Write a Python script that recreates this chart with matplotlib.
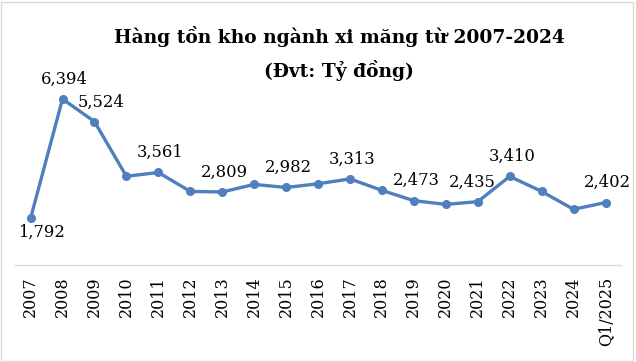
import matplotlib
matplotlib.use("Agg")
import matplotlib.pyplot as plt
from matplotlib.patches import Rectangle

categories = ["2007", "2008", "2009", "2010", "2011", "2012", "2013", "2014", "2015",
              "2016", "2017", "2018", "2019", "2020", "2021", "2022", "2023", "2024",
              "Q1/2025"]
values = [1792, 6394, 5524, 3412, 3561, 2830, 2809, 3100, 2982,
          3125, 3313, 2870, 2473, 2330, 2435, 3410, 2830, 2140, 2402]
labeled = ["2007", "2008", "2009", "2011", "2013", "2015", "2017", "2019",
           "2021", "2022", "Q1/2025"]

title = "Hàng tồn kho ngành xi măng từ 2007-2024\n(Đvt: Tỷ đồng)"

W, H = 636, 362
fig = plt.figure(figsize=(W / 100, H / 100), dpi=100)
fig.patch.set_facecolor("white")
ax = fig.add_axes([14.6 / W, 1 - 264.8 / H, (621.5 - 14.6) / W, (264.8 - 83.3) / H])

line_color = "#4F7FBC"
x = list(range(len(categories)))
ax.plot(x, values, color=line_color, lw=2.4, marker="o", ms=5.5,
        solid_joinstyle="round", solid_capstyle="round", clip_on=False)

ax.set_xlim(-0.5, len(categories) - 0.5)
ax.set_ylim(0, 7000)
ax.set_yticks([])
for s in ["top", "left", "right"]:
    ax.spines[s].set_visible(False)
ax.spines["bottom"].set_color("#D9D9D9")
ax.spines["bottom"].set_linewidth(1.0)
ax.set_xticks(x)
ax.set_xticklabels(categories, rotation=90, family="DejaVu Serif", fontsize=11.5,
                   va="top", ha="center")
ax.tick_params(axis="x", length=0, pad=8.5)

# label placement (pixel offsets)
offsets = {"2007": (11, -14), "2009": (7, 19), "2021": (-5, 19)}
for cat, v in zip(categories, values):
    if cat not in labeled:
        continue
    i = categories.index(cat)
    dx, dy = offsets.get(cat, (2, 20))
    ax.annotate(f"{v:,}", (i, v), xytext=(dx, dy), textcoords="offset pixels",
                ha="center", va="center", family="DejaVu Serif", fontsize=11.8,
                color="#000000", annotation_clip=False)

fig.text(339 / W, 1 - 53.5 / H, title, ha="center", va="center",
         family="DejaVu Serif", fontweight="bold", fontsize=13.4, linespacing=1.75)

fig.patches.append(Rectangle((1 / W, 1 / H), (W - 4) / W, (H - 3) / H,
                             transform=fig.transFigure, fill=False,
                             edgecolor="#D9D9D9", lw=1.0))

fig.savefig("out.png", dpi=100)
